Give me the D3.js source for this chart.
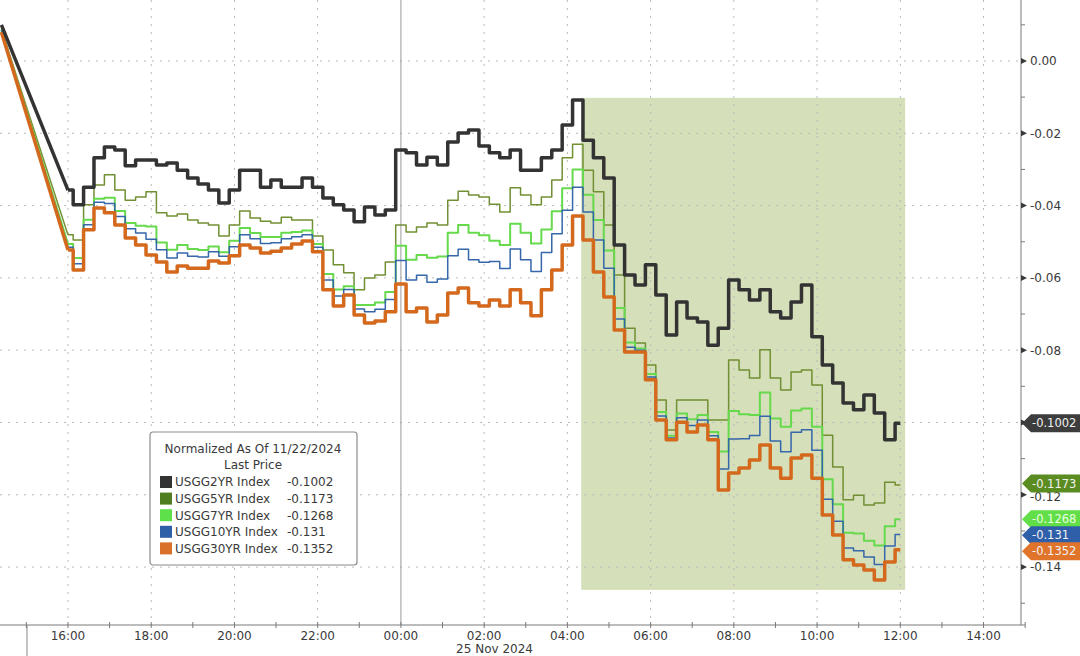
<!DOCTYPE html>
<html lang="en">
<head>
<meta charset="utf-8">
<title>UST yields normalized as of 11/22/2024</title>
<script src="https://cdn.jsdelivr.net/npm/d3@7/dist/d3.min.js"></script>
<style>
  body { margin: 0; background: #fff; }
  svg { display: block; font-family: "DejaVu Sans", sans-serif; }
  .grid line { stroke: #b9b9b9; stroke-width: 1; stroke-dasharray: 2,6; }
</style>
</head>
<body>
<svg id="chart" width="1080" height="656"></svg>
<script>
// change in yield since the 11/22/2024 close; first point is the 14:24 start,
// then one value every 15 minutes from 16:00 (24 Nov) to 12:00 (25 Nov), one row per hour
const usgg2yr = [0.0100,
  -0.0357, -0.0398, -0.0349, -0.0268,
  -0.0238, -0.0246, -0.0290, -0.0274,
  -0.0274, -0.0288, -0.0282, -0.0302,
  -0.0324, -0.0340, -0.0357, -0.0393,
  -0.0357, -0.0302, -0.0302, -0.0349,
  -0.0329, -0.0349, -0.0349, -0.0324,
  -0.0349, -0.0379, -0.0398, -0.0412,
  -0.0445, -0.0404, -0.0426, -0.0412,
  -0.0246, -0.0254, -0.0288, -0.0266,
  -0.0288, -0.0224, -0.0199, -0.0191,
  -0.0235, -0.0254, -0.0268, -0.0246,
  -0.0302, -0.0302, -0.0268, -0.0246,
  -0.0177, -0.0108, -0.0219, -0.0268,
  -0.0324, -0.0509, -0.0592, -0.0620,
  -0.0564, -0.0647, -0.0758, -0.0667,
  -0.0711, -0.0722, -0.0786, -0.0739,
  -0.0606, -0.0633, -0.0661, -0.0633,
  -0.0694, -0.0711, -0.0667, -0.0620,
  -0.0763, -0.0841, -0.0891, -0.0946,
  -0.0965, -0.0924, -0.0974, -0.1048,
  -0.1002];

const usgg5yr = [0.0088,
  -0.0481, -0.0495, -0.0398, -0.0343,
  -0.0315, -0.0357, -0.0385, -0.0376,
  -0.0362, -0.0420, -0.0429, -0.0423,
  -0.0440, -0.0448, -0.0454, -0.0484,
  -0.0454, -0.0415, -0.0434, -0.0443,
  -0.0448, -0.0432, -0.0440, -0.0440,
  -0.0484, -0.0523, -0.0564, -0.0586,
  -0.0633, -0.0600, -0.0592, -0.0556,
  -0.0454, -0.0473, -0.0459, -0.0448,
  -0.0454, -0.0385, -0.0360, -0.0371,
  -0.0376, -0.0396, -0.0418, -0.0351,
  -0.0371, -0.0398, -0.0376, -0.0329,
  -0.0268, -0.0230, -0.0302, -0.0362,
  -0.0454, -0.0592, -0.0739, -0.0780,
  -0.0841, -0.0938, -0.1021, -0.0938,
  -0.0938, -0.0938, -0.0993, -0.0993,
  -0.0827, -0.0855, -0.0877, -0.0799,
  -0.0877, -0.0910, -0.0860, -0.0855,
  -0.0896, -0.1035, -0.1123, -0.1214,
  -0.1201, -0.1228, -0.1223, -0.1165,
  -0.1173];

const usgg7yr = [0.0086,
  -0.0506, -0.0545, -0.0439, -0.0381,
  -0.0378, -0.0415, -0.0448, -0.0456,
  -0.0458, -0.0502, -0.0522, -0.0509,
  -0.0520, -0.0523, -0.0513, -0.0529,
  -0.0497, -0.0462, -0.0476, -0.0487,
  -0.0487, -0.0475, -0.0473, -0.0469,
  -0.0506, -0.0589, -0.0632, -0.0623,
  -0.0675, -0.0675, -0.0668, -0.0639,
  -0.0511, -0.0550, -0.0537, -0.0544,
  -0.0541, -0.0475, -0.0454, -0.0475,
  -0.0482, -0.0497, -0.0509, -0.0450,
  -0.0475, -0.0505, -0.0466, -0.0416,
  -0.0352, -0.0300, -0.0370, -0.0440,
  -0.0524, -0.0683, -0.0779, -0.0795,
  -0.0866, -0.0971, -0.1037, -0.0975,
  -0.0991, -0.0979, -0.1026, -0.1080,
  -0.0968, -0.0977, -0.0979, -0.0917,
  -0.0989, -0.1012, -0.0967, -0.0961,
  -0.1012, -0.1157, -0.1226, -0.1305,
  -0.1307, -0.1327, -0.1340, -0.1287,
  -0.1268];

const usgg10yr = [0.0085,
  -0.0515, -0.0561, -0.0453, -0.0391,
  -0.0394, -0.0430, -0.0464, -0.0476,
  -0.0493, -0.0522, -0.0545, -0.0531,
  -0.0540, -0.0542, -0.0528, -0.0540,
  -0.0514, -0.0481, -0.0492, -0.0505,
  -0.0503, -0.0492, -0.0486, -0.0481,
  -0.0515, -0.0606, -0.0650, -0.0632,
  -0.0686, -0.0694, -0.0687, -0.0660,
  -0.0552, -0.0606, -0.0593, -0.0612,
  -0.0603, -0.0539, -0.0521, -0.0550,
  -0.0557, -0.0555, -0.0574, -0.0520,
  -0.0550, -0.0582, -0.0530, -0.0478,
  -0.0413, -0.0349, -0.0418, -0.0495,
  -0.0573, -0.0714, -0.0792, -0.0800,
  -0.0874, -0.0982, -0.1043, -0.0987,
  -0.1008, -0.0993, -0.1037, -0.1129,
  -0.1046, -0.1045, -0.1036, -0.0983,
  -0.1051, -0.1081, -0.1027, -0.1020,
  -0.1077, -0.1212, -0.1273, -0.1347,
  -0.1355, -0.1372, -0.1393, -0.1342,
  -0.1310];

const usgg30yr = [0.0080,
  -0.0523, -0.0578, -0.0467, -0.0407,
  -0.0420, -0.0454, -0.0490, -0.0509,
  -0.0537, -0.0556, -0.0584, -0.0567,
  -0.0573, -0.0573, -0.0553, -0.0559,
  -0.0539, -0.0509, -0.0517, -0.0531,
  -0.0526, -0.0517, -0.0506, -0.0498,
  -0.0528, -0.0633, -0.0678, -0.0647,
  -0.0703, -0.0725, -0.0719, -0.0694,
  -0.0617, -0.0694, -0.0683, -0.0722,
  -0.0703, -0.0642, -0.0628, -0.0669,
  -0.0678, -0.0661, -0.0678, -0.0633,
  -0.0669, -0.0705, -0.0633, -0.0578,
  -0.0509, -0.0429, -0.0495, -0.0584,
  -0.0653, -0.0744, -0.0805, -0.0805,
  -0.0882, -0.0993, -0.1048, -0.0999,
  -0.1026, -0.1007, -0.1048, -0.1187,
  -0.1140, -0.1126, -0.1104, -0.1062,
  -0.1126, -0.1154, -0.1098, -0.1090,
  -0.1154, -0.1256, -0.1311, -0.1380,
  -0.1394, -0.1408, -0.1436, -0.1386,
  -0.1352];

const seriesNames = ["USGG2YR Index", "USGG5YR Index", "USGG7YR Index", "USGG10YR Index", "USGG30YR Index"];
const lastPrices = ["-0.1002", "-0.1173", "-0.1268", "-0.131", "-0.1352"];
const yTicks = [0, -0.02, -0.04, -0.06, -0.08, -0.10, -0.12, -0.14];
// -0.10 sits right under the 2YR price tag, so its label is not printed
const yLabelTicks = [0, -0.02, -0.04, -0.06, -0.08, -0.12, -0.14];

// shaded window on the chart
const shadeFrom = new Date(2024, 10, 25, 4, 20);
const shadeTo = new Date(2024, 10, 25, 12, 7);
const shadeTop = -0.0102, shadeBottom = -0.1463;

const times = [new Date(2024, 10, 24, 14, 24)].concat(
  d3.timeMinute.every(15).range(new Date(2024, 10, 24, 16, 0), new Date(2024, 10, 25, 12, 1)));

const lineColors = ["#333333", "#718f33", "#66d94c", "#3567aa", "#d4691d"];
const swatchColors = ["#333333", "#4f7d1f", "#5de04a", "#2f5fa6", "#d9712a"];
const tagColors = ["#3d3d3d", "#5b8c22", "#62df48", "#2f5fa8", "#e0742b"];
const lineWidths = [3.5, 1.5, 2, 1.5, 3.5];

const svg = d3.select("#chart");
const plotRight = 1021, axisY = 625;

const x = d3.scaleTime()
  .domain([new Date(2024, 10, 24, 14, 22), new Date(2024, 10, 25, 14, 54)])
  .range([0, plotRight]);
const y = d3.scaleLinear().domain([-0.15602, 0.01687]).range([axisY, 0]);

// highlight box
svg.append("rect")
  .attr("x", x(shadeFrom)).attr("y", y(shadeTop))
  .attr("width", x(shadeTo) - x(shadeFrom))
  .attr("height", y(shadeBottom) - y(shadeTop))
  .attr("fill", "#d5dfb9");

// grid
const grid = svg.append("g").attr("class", "grid");
const evenHours = d3.timeHour.every(2).range(new Date(2024, 10, 24, 16), new Date(2024, 10, 25, 14, 1));
grid.selectAll(".v").data(evenHours.filter(d => d.getHours() !== 0)).join("line")
  .attr("x1", d => x(d)).attr("x2", d => x(d)).attr("y1", 0).attr("y2", axisY);
grid.selectAll(".h").data(yTicks).join("line")
  .attr("x1", 0).attr("x2", plotRight).attr("y1", d => y(d)).attr("y2", d => y(d));

// day break
const midnight = new Date(2024, 10, 25, 0, 0);
svg.append("line").attr("x1", x(midnight)).attr("x2", x(midnight))
  .attr("y1", 0).attr("y2", axisY).attr("stroke", "#9a9a9a");
svg.append("line").attr("x1", 27).attr("x2", 27)
  .attr("y1", axisY).attr("y2", 656).attr("stroke", "#8a8a8a");

// lines
const allSeries = [usgg2yr, usgg5yr, usgg7yr, usgg10yr, usgg30yr];
const headLine = d3.line().x(d => x(d.t)).y(d => y(d.v));
const bodyLine = d3.line().x(d => x(d.t)).y(d => y(d.v)).curve(d3.curveStep);
const drawOrder = [1, 2, 3, 4, 0];
drawOrder.forEach(i => {
  const pts = times.map((t, j) => ({t: t, v: allSeries[i][j]}));
  svg.append("path").attr("d", headLine(pts.slice(0, 2)))
    .attr("fill", "none").attr("stroke", lineColors[i]).attr("stroke-width", lineWidths[i]);
  svg.append("path").attr("d", bodyLine(pts.slice(1)))
    .attr("fill", "none").attr("stroke", lineColors[i]).attr("stroke-width", lineWidths[i])
    .attr("stroke-linejoin", "round");
});

// bottom axis
const xAxis = svg.append("g");
xAxis.append("line").attr("x1", 0).attr("x2", plotRight + 4)
  .attr("y1", axisY).attr("y2", axisY).attr("stroke", "#7a7a7a");
const hours = d3.timeHour.every(1).range(new Date(2024, 10, 24, 15), new Date(2024, 10, 25, 15, 1));
xAxis.selectAll(".tk").data(hours).join("line")
  .attr("x1", d => x(d)).attr("x2", d => x(d))
  .attr("y1", axisY - 3).attr("y2", axisY + 3).attr("stroke", "#7a7a7a");
xAxis.selectAll("text").data(evenHours).join("text")
  .attr("x", d => x(d)).attr("y", axisY + 15)
  .attr("text-anchor", "middle").attr("font-size", 12).attr("fill", "#3a3a3a")
  .text(d3.timeFormat("%H:%M"));
svg.append("text").attr("x", x(new Date(2024, 10, 25, 2, 15))).attr("y", 653)
  .attr("text-anchor", "middle").attr("font-size", 12).attr("fill", "#3a3a3a")
  .text("25 Nov 2024");

// right axis
const yAxis = svg.append("g");
yAxis.append("line").attr("x1", plotRight).attr("x2", plotRight)
  .attr("y1", 0).attr("y2", axisY).attr("stroke", "#7a7a7a");
const minorTicks = [0.01, -0.01, -0.03, -0.05, -0.07, -0.09, -0.11, -0.13, -0.15];
yAxis.selectAll(".mn").data(minorTicks).join("line")
  .attr("x1", plotRight).attr("x2", plotRight + 4)
  .attr("y1", d => y(d)).attr("y2", d => y(d)).attr("stroke", "#7a7a7a");
yAxis.selectAll("path").data(yTicks).join("path")
  .attr("d", d => `M${plotRight},${y(d) - 3}L${plotRight + 6},${y(d)}L${plotRight},${y(d) + 3}Z`)
  .attr("fill", "#3a3a3a");
yAxis.selectAll("text").data(yLabelTicks).join("text")
  .attr("x", plotRight + 9).attr("y", d => y(d)).attr("dy", d => d === -0.12 ? "0.5em" : "0.36em")
  .attr("font-size", 12).attr("fill", "#3a3a3a")
  .text(d => d === 0 ? "0.00" : d.toFixed(2));

// last price tags, pushed apart a little where they crowd
const tagY = [];
lastPrices.forEach((p, i) => {
  let ty = y(+p);
  if (i > 0 && ty - tagY[i - 1] < 16) ty = tagY[i - 1] + 16;
  tagY.push(ty);
});
const tags = svg.append("g");
lastPrices.forEach((p, i) => {
  const ty = i === 1 ? tagY[i] - 1.5 : tagY[i];
  tags.append("path")
    .attr("d", `M${plotRight + 1},${ty}L${plotRight + 10},${ty - 9}L1080,${ty - 9}L1080,${ty + 9}L${plotRight + 10},${ty + 9}Z`)
    .attr("fill", tagColors[i]);
  tags.append("text").attr("x", plotRight + 11).attr("y", ty).attr("dy", "0.35em")
    .attr("font-size", 11.5).attr("fill", i === 2 ? "#eaffe0" : "#f2f2f2").text(p);
});

// legend
const lg = svg.append("g").attr("transform", "translate(150,432)");
lg.append("rect").attr("width", 207).attr("height", 133).attr("rx", 3)
  .attr("fill", "#fff").attr("stroke", "#8c8c8c").attr("stroke-width", 1.2);
lg.append("text").attr("x", 103).attr("y", 21).attr("text-anchor", "middle")
  .attr("font-size", 12).attr("fill", "#3a3a3a").text("Normalized As Of 11/22/2024");
lg.append("text").attr("x", 103).attr("y", 37).attr("text-anchor", "middle")
  .attr("font-size", 12).attr("fill", "#3a3a3a").text("Last Price");
const rows = lg.selectAll(".row").data(seriesNames).join("g")
  .attr("transform", (d, i) => `translate(0,${50 + i * 16.6})`);
rows.append("rect").attr("x", 10).attr("y", -6).attr("width", 12).attr("height", 12)
  .attr("fill", (d, i) => swatchColors[i]);
rows.append("text").attr("x", 25).attr("dy", "0.36em").attr("font-size", 12)
  .attr("fill", "#3a3a3a").text(d => d);
rows.append("text").attr("x", 137).attr("dy", "0.36em").attr("font-size", 12)
  .attr("fill", "#3a3a3a").text((d, i) => lastPrices[i]);
</script>
</body>
</html>
